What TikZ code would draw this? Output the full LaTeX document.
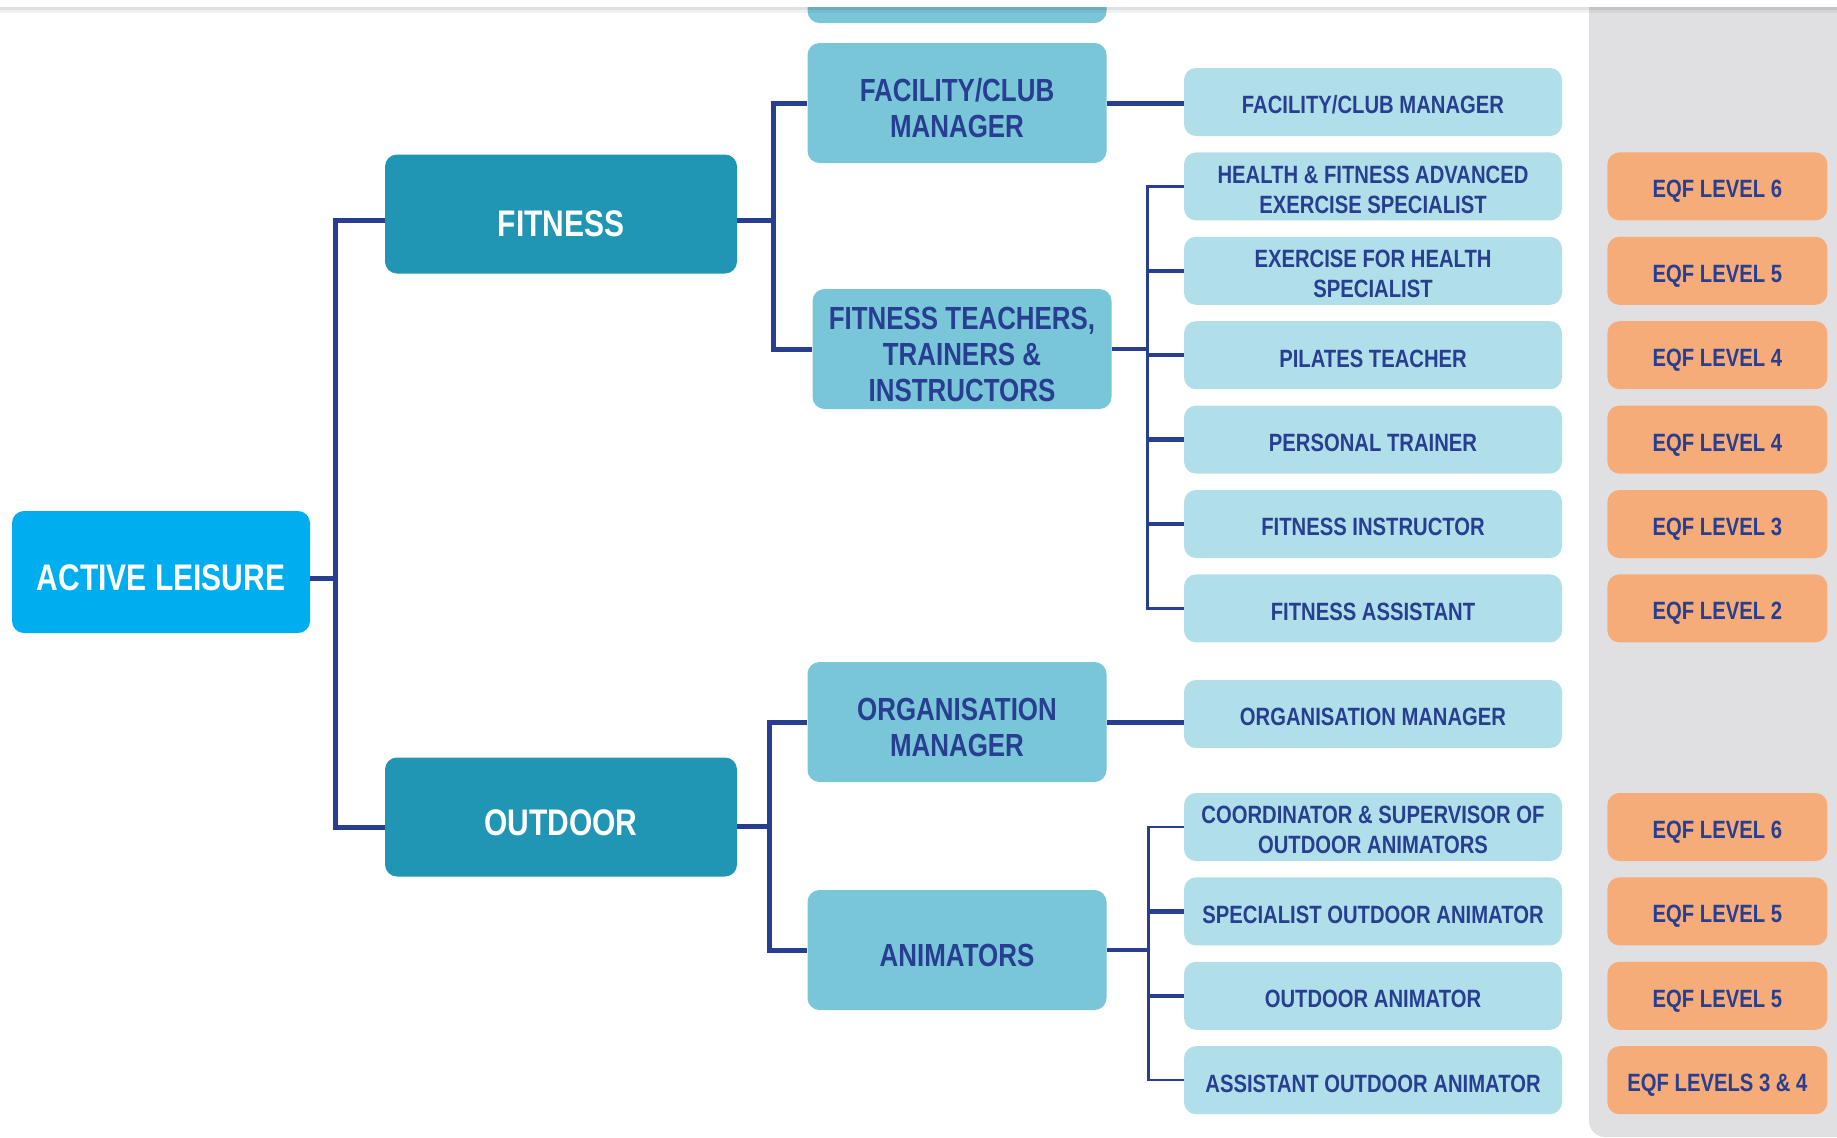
\documentclass[tikz,border=0pt]{standalone}
\usepackage{fontspec}
\setmainfont{Liberation Sans}[FakeStretch=0.81]
\usetikzlibrary{shapes,positioning}
\definecolor{leisurecolor}{RGB}{0,174,239}
\definecolor{areacolor}{RGB}{33,150,180}
\definecolor{rolecolor}{RGB}{122,198,217}
\definecolor{jobcolor}{RGB}{176,223,233}
\definecolor{eqfcolor}{RGB}{246,172,120}
\definecolor{panelcolor}{RGB}{224,224,227}
\definecolor{treeblue}{RGB}{40,62,145}

\begin{document}
\begin{tikzpicture}[
    x=1pt, y=-1pt,
    node distance=16pt,
    box/.style={rectangle, rounded corners=12pt, inner sep=0pt, align=flush center, text=treeblue},
    rootbox/.style={box, fill=leisurecolor, text=white, minimum width=298pt, minimum height=122pt,
		text width=298pt, font=\bfseries\fontsize{37}{42}\selectfont,
		execute at begin node={\rule{0pt}{38pt}}},
    areabox/.style={box, fill=areacolor, text=white, minimum width=352pt, minimum height=119pt,
		text width=352pt, font=\bfseries\fontsize{37}{42}\selectfont,
		execute at begin node={\rule{0pt}{38pt}}},
    rolebox/.style={box, fill=rolecolor, minimum width=299pt, minimum height=120pt,
		text width=299pt, font=\bfseries\fontsize{32}{36}\selectfont,
		execute at begin node={\rule{0pt}{34pt}}},
    jobbox/.style={box, fill=jobcolor, minimum width=378pt, minimum height=68pt,
		text width=378pt, font=\bfseries\fontsize{25}{30}\selectfont,
		execute at begin node={\rule{0pt}{24pt}}},
    eqfbox/.style={box, fill=eqfcolor, minimum width=220pt, minimum height=68pt,
		text width=220pt, font=\bfseries\fontsize{25}{30}\selectfont,
		execute at begin node={\rule{0pt}{28pt}}},
    branch/.style={draw=treeblue, line width=5pt},
    stub/.style={draw=treeblue, line width=4.5pt},
    trunk/.style={draw=treeblue, line width=2.5pt}
    ]

\useasboundingbox (0,0) rectangle (1837,1138);
\fill[panelcolor, rounded corners=16pt] (1589,-40) rectangle (1877,1137);

\node[rolebox] (cutrole) at (957,-37) {};

\node[rootbox] (leisure) at (161,572) {ACTIVE LEISURE};
\node[areabox, execute at begin node={\rule{0pt}{46pt}}] (fitness) at (561,214) {FITNESS};
\node[areabox] (outdoor) at (561,817) {OUTDOOR};

\node[rolebox] (facmgr) at (957,103) {FACILITY/CLUB\\MANAGER};
\node[rolebox] (fitteach) at (962,349) {FITNESS TEACHERS,\\TRAINERS \&\\INSTRUCTORS};
\node[rolebox] (orgmgr) at (957,722) {ORGANISATION\\MANAGER};
\node[rolebox] (animators) at (957,950) {ANIMATORS};

\node[jobbox] (jfacmgr) at (1373,102) {FACILITY/CLUB MANAGER};
\node[jobbox] (jadvanced) [below=of jfacmgr] {HEALTH \& FITNESS ADVANCED\\EXERCISE SPECIALIST};
\node[jobbox] (jexercise) [below=of jadvanced] {EXERCISE FOR HEALTH\\SPECIALIST};
\node[jobbox] (jpilates) [below=of jexercise] {PILATES TEACHER};
\node[jobbox] (jpersonal) [below=of jpilates] {PERSONAL TRAINER};
\node[jobbox] (jinstructor) [below=of jpersonal] {FITNESS INSTRUCTOR};
\node[jobbox] (jassistant) [below=of jinstructor] {FITNESS ASSISTANT};

\node[jobbox] (jorgmgr) at (1373,714) {ORGANISATION MANAGER};
\node[jobbox] (jcoord) at (1373,827) {COORDINATOR \& SUPERVISOR OF\\OUTDOOR ANIMATORS};
\node[jobbox] (jspecialist) [below=of jcoord] {SPECIALIST OUTDOOR ANIMATOR};
\node[jobbox] (janimator) [below=of jspecialist] {OUTDOOR ANIMATOR};
\node[jobbox] (jassistout) [below=of janimator] {ASSISTANT OUTDOOR ANIMATOR};

\node[eqfbox] (eadvanced) [right=45pt of jadvanced] {EQF LEVEL 6};
\node[eqfbox] (eexercise) [right=45pt of jexercise] {EQF LEVEL 5};
\node[eqfbox] (epilates) [right=45pt of jpilates] {EQF LEVEL 4};
\node[eqfbox] (epersonal) [right=45pt of jpersonal] {EQF LEVEL 4};
\node[eqfbox] (einstructor) [right=45pt of jinstructor] {EQF LEVEL 3};
\node[eqfbox] (eassistant) [right=45pt of jassistant] {EQF LEVEL 2};
\node[eqfbox] (ecoord) [right=45pt of jcoord] {EQF LEVEL 6};
\node[eqfbox] (especialist) [right=45pt of jspecialist] {EQF LEVEL 5};
\node[eqfbox] (eanimator) [right=45pt of janimator] {EQF LEVEL 5};
\node[eqfbox] (eassistout) [right=45pt of jassistout] {EQF LEVELS 3 \& 4};

\draw[branch] ([yshift=-6pt]leisure.east) -- ++(25pt,0) coordinate (leisurefork);
\draw[branch] ([yshift=-6pt]fitness.west) -| (leisurefork) |- ([yshift=-10pt]outdoor.west);

\draw[branch] ([yshift=-6pt]fitness.east) -- ++(36pt,0) coordinate (fitnessfork);
\draw[branch] (facmgr.west) -| (fitnessfork) |- (fitteach.west);
\draw[branch] (facmgr.east) -- (facmgr.east -| jfacmgr.west);

\draw[stub] (fitteach.east) -- ++(36pt,0) coordinate (teachfork);
\draw[trunk] (jadvanced.west) -| (teachfork) |- (jassistant.west);
\foreach \j in {jexercise, jpilates, jpersonal, jinstructor}
	\draw[stub] (\j.west) -- (\j.west -| teachfork);

\draw[branch] ([yshift=-9pt]outdoor.east) -- ++(32pt,0) coordinate (outdoorfork);
\draw[branch] (orgmgr.west) -| (outdoorfork) |- (animators.west);
\draw[branch] (orgmgr.east) -- (orgmgr.east -| jorgmgr.west);

\draw[stub] (animators.east) -- ++(42pt,0) coordinate (animfork);
\draw[trunk] (jcoord.west) -| (animfork) |- (jassistout.west);
\foreach \j in {jspecialist, janimator}
	\draw[stub] (\j.west) -- (\j.west -| animfork);

\fill[white] (0,0) rectangle (1837,7);
\fill[black, opacity=0.12] (0,7) rectangle (1837,10);
\fill[black, opacity=0.05] (0,10) rectangle (1837,13);

\end{tikzpicture}
\end{document}
